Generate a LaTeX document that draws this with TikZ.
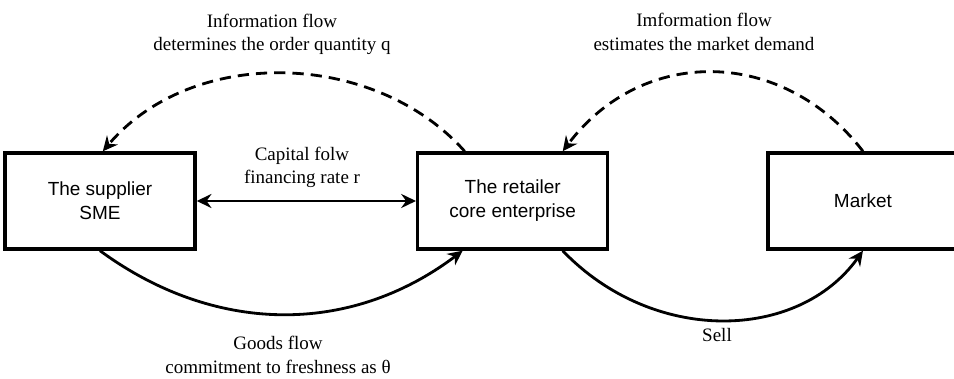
\documentclass[tikz,border=0pt]{standalone}
\usepackage{fontspec}
\setmainfont{Liberation Serif}
\setsansfont{Liberation Sans}
\usetikzlibrary{arrows.meta, positioning}

\begin{document}
\begin{tikzpicture}[x=0.025cm, y=-0.025cm,
    box/.style={rectangle, draw, line width=2.4pt, minimum width=4.75cm, minimum height=2.4cm, align=center, font=\fontsize{13.5}{17}\sffamily},
    flowlabel/.style={align=center, font=\fontsize{13.5}{16.5}\selectfont},
    arrow/.style={->, >={Stealth[length=10.5pt, width=10pt, inset=3.5pt]}, line width=2pt},
    infoarrow/.style={arrow, dash pattern=on 8pt off 5pt}]
    \useasboundingbox (0,0) rectangle (954,379);

    % Actors
    \node[box] (sup) at (100,201) {The supplier\\SME};
    \node[box, right=5.48cm of sup] (ret) {The retailer\\core enterprise};
    \node[box, right=3.92cm of ret] (mkt) {Market};

    % Flows
    \draw[arrow, <->] (sup.east) -- (ret.west);
    \draw[infoarrow] ([xshift=-1.2cm]ret.north) .. controls +(-90,-101) and +(90,-106) .. ([xshift=0.07cm]sup.north);
    \draw[infoarrow] (mkt.north) .. controls +(-80,-104) and +(80,-106) .. ([xshift=1.25cm]ret.north);
    \draw[arrow] (sup.south) .. controls +(113,83) and +(-114,86) .. ([xshift=-1.25cm]ret.south);
    \draw[arrow] ([xshift=1.25cm]ret.south) .. controls +(90,94) and +(-65,91) .. (mkt.south);

    % Labels
    \node[flowlabel] (infoq) at (272,34) {Information flow\\determines the order quantity q};
    \node[flowlabel] (infod) at (704,32) {Imformation flow\\estimates the market demand};
    \node[flowlabel] (cap) at (302,167) {Capital folw\\financing rate r};
    \node[flowlabel] (goods) at (278,355) {Goods flow\\commitment to freshness as θ};
    \node[flowlabel] (sell) at (717,335) {Sell};
\end{tikzpicture}
\end{document}
